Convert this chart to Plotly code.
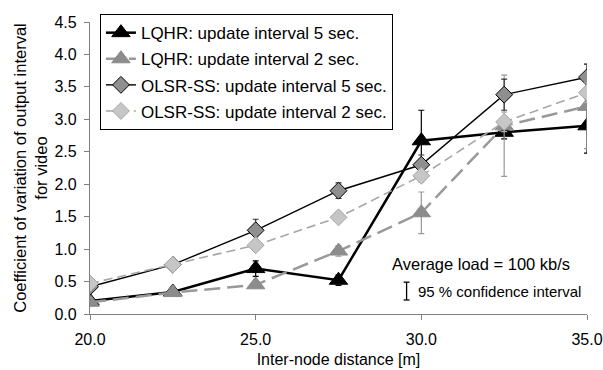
import plotly.graph_objects as go

# Inter-node distance [m]
distance = [20.0, 22.5, 25.0, 27.5, 30.0, 32.5, 35.0]

# Coefficient of variation of output interval (mean values)
lqhr_5s = [0.20, 0.34, 0.70, 0.52, 2.67, 2.80, 2.90]
lqhr_2s = [0.18, 0.33, 0.45, 0.97, 1.56, 2.90, 3.20]
olsr_5s = [0.42, 0.76, 1.29, 1.90, 2.30, 3.38, 3.65]
olsr_2s = [0.47, 0.76, 1.06, 1.49, 2.13, 2.96, 3.41]

# Half-widths of the 95 % confidence intervals
lqhr_5s_ci = [0.05, 0.05, 0.12, 0.08, 0.47, 0.10, 0.42]
lqhr_2s_ci = [0.05, 0.05, 0.05, 0.08, 0.32, 0.78, 0.65]
olsr_5s_ci = [0.05, 0.05, 0.17, 0.12, 0.15, 0.24, 0.20]
olsr_2s_ci = [0.05, 0.05, 0.08, 0.08, 0.10, 0.15, 0.15]

x_ticks = [20.0, 25.0, 30.0, 35.0]
y_ticks = [0.0, 0.5, 1.0, 1.5, 2.0, 2.5, 3.0, 3.5, 4.0, 4.5]

FONT = "Liberation Sans, Arial, sans-serif"

fig = go.Figure()

fig.add_trace(go.Scatter(
    x=distance, y=lqhr_5s, name="LQHR: update interval 5 sec.",
    legendgroup="a", mode="lines+markers",
    line=dict(color="black", width=2.5),
    marker=dict(symbol="triangle-up", size=16, color="black",
                line=dict(color="black", width=1)),
    error_y=dict(type="data", array=lqhr_5s_ci, color="black",
                 thickness=1.2, width=3),
))
fig.add_trace(go.Scatter(
    x=distance, y=lqhr_2s, name="LQHR: update interval 2 sec.",
    legendgroup="b", mode="lines+markers",
    line=dict(color="#999999", width=2.5, dash="16px,7px"),
    marker=dict(symbol="triangle-up", size=16, color="#8c8c8c",
                line=dict(color="#8c8c8c", width=1)),
    error_y=dict(type="data", array=lqhr_2s_ci, color="#999999",
                 thickness=1.2, width=3),
))
fig.add_trace(go.Scatter(
    x=distance, y=olsr_5s, name="OLSR-SS: update interval 5 sec.",
    legendgroup="c", mode="lines+markers",
    line=dict(color="black", width=1.4),
    marker=dict(symbol="diamond", size=13, color="#8f8f8f",
                line=dict(color="black", width=1)),
    error_y=dict(type="data", array=olsr_5s_ci, color="#333333",
                 thickness=1.2, width=3),
))
fig.add_trace(go.Scatter(
    x=distance, y=olsr_2s, name="OLSR-SS: update interval 2 sec.",
    legendgroup="d", mode="lines+markers",
    line=dict(color="#a6a6a6", width=1.6, dash="9px,5px"),
    marker=dict(symbol="diamond", size=13, color="#c6c6c6",
                line=dict(color="#a6a6a6", width=1)),
    error_y=dict(type="data", array=olsr_2s_ci, color="#b0b0b0",
                 thickness=1.2, width=3),
))

axis_common = dict(
    showgrid=False, zeroline=False, showline=True, automargin=False,
    linecolor="#808080", linewidth=1.2,
    ticks="outside", ticklen=5, tickcolor="#808080",
    tickfont=dict(family=FONT, size=16, color="black"),
)

fig.update_xaxes(
    range=[20, 35], tickvals=x_ticks,
    ticktext=[f"{v:.1f}" for v in x_ticks],
    ticklabelstandoff=6,
    title=dict(text="Inter-node distance [m]",
               font=dict(family=FONT, size=16, color="black"), standoff=6),
    **axis_common,
)
fig.update_yaxes(
    range=[0, 4.5], tickvals=y_ticks,
    ticktext=[f"{v:.1f}" for v in y_ticks],
    ticklabelstandoff=4,
    title=dict(text="Coefficient of variation of output interval<br>for video",
               font=dict(family=FONT, size=16.5, color="black"), standoff=2),
    **axis_common,
)

# Confidence-interval key: an I-shaped bar next to its caption
bar_x, bar_top, bar_bot, half = 0.637, 0.109, 0.048, 0.006
for y0, y1, x0, x1 in [
    (bar_bot, bar_top, bar_x, bar_x),
    (bar_top, bar_top, bar_x - half, bar_x + half),
    (bar_bot, bar_bot, bar_x - half, bar_x + half),
]:
    fig.add_shape(type="line", xref="paper", yref="paper",
                  x0=x0, x1=x1, y0=y0, y1=y1,
                  line=dict(color="black", width=1.3))

fig.add_annotation(
    text="Average load = 100 kb/s", xref="paper", yref="paper",
    x=0.604, y=0.171, xanchor="left", yanchor="middle", showarrow=False,
    font=dict(family=FONT, size=16.5, color="black"),
)
fig.add_annotation(
    text="95 % confidence interval", xref="paper", yref="paper",
    x=0.655, y=0.077, xanchor="left", yanchor="middle", showarrow=False,
    font=dict(family=FONT, size=15, color="black"),
)

fig.update_layout(
    width=603, height=370,
    margin=dict(l=90, r=16, t=21.5, b=56),
    plot_bgcolor="white", paper_bgcolor="white",
    font=dict(family=FONT, size=16, color="black"),
    legend=dict(
        x=0.02, y=1.027, xanchor="left", yanchor="top",
        bgcolor="white", bordercolor="black", borderwidth=1,
        font=dict(family=FONT, size=17, color="black"),
        traceorder="grouped", tracegroupgap=1,
    ),
)

fig.write_html("out.html")
